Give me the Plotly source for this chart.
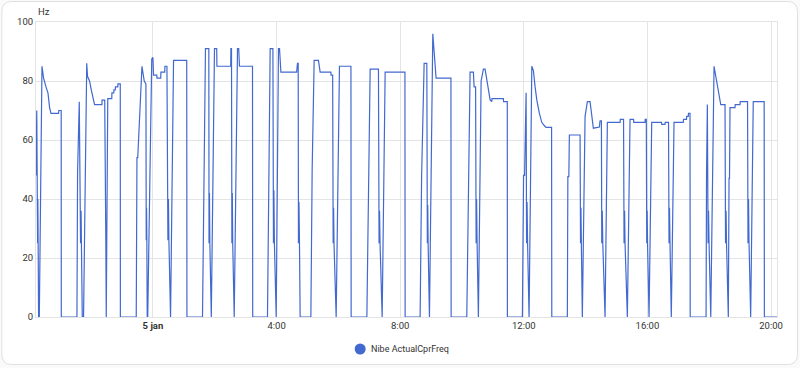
import pandas as pd
import plotly.graph_objects as go

# Minutes relative to 5 Jan 00:00, and compressor frequency (Hz)
minutes = [
    -227.0, -225.5, -223.9, -223.4, -222.8, -222.0, -220.6, -215.4, -212.3, -207.6, -203.8, -200.6, -197.9, -183.2, -182.8, -178.1, -177.9,
    -147.5, -146.3, -143.0, -140.5, -139.5, -138.6, -137.2, -134.7, -128.5, -126.9, -123.0, -119.7, -116.4, -113.3, -99.0, -98.8, -93.6, -92.6, -92.0, -91.4, -90.6, -87.7, -79.9, -79.6, -76.0, -75.6, -73.1, -72.7, -68.3, -67.9, -63.4, -63.2,
    -32.4, -31.0, -29.5, -21.3, -16.9, -13.6, -13.0, -12.4, -11.8, -11.1, -10.1, -2.3, 0, 1.2, 7.4, 7.8, 15.1, 15.5, 22.9, 23.3, 27.2, 29.1, 30.1, 31.0, 33.2, 34.2, 40.0, 65.6, 66.0,
    96.2, 102.0, 108.5, 108.9, 109.7, 110.5, 113.3, 119.5, 123.8, 124.2, 151.0, 151.4, 152.5, 153.3, 154.1, 154.9, 157.8, 164.2, 166.5, 168.0, 193.3, 193.7,
    222.4, 227.6, 232.9, 234.0, 234.8, 235.8, 239.3, 243.7, 245.7, 248.4, 279.0, 280.6, 282.0, 282.5, 283.5, 284.5, 285.8,
    306.6, 308.2, 309.1, 313.0, 321.3, 324.6, 345.4, 345.8, 348.9, 349.9, 350.7, 351.5, 355.7, 362.1, 384.4, 384.8,
    415.3, 421.7, 437.8, 439.0, 439.9, 440.9, 445.0, 450.8, 489.2, 489.6,
    518.7, 521.6, 526.5, 531.7, 532.7, 533.5, 534.2, 536.8, 543.3, 545.9, 547.8, 549.7, 578.5, 578.9,
    609.3, 614.4, 615.7, 622.1, 623.5, 626.4, 627.4, 628.3, 629.3, 631.8, 637.1, 641.5, 644.8, 648.2, 651.3, 654.6, 657.8, 658.2, 680.3, 680.7, 687.9, 688.1,
    717.2, 719.5, 721.5, 724.4, 725.4, 726.3, 727.3, 730.2, 735.5, 738.6, 741.9, 745.2, 750.2, 754.9, 759.3, 763.2, 773.9, 774.3,
    804.5, 805.5, 807.4, 808.4, 829.2, 830.1, 830.9, 831.7, 833.6, 838.9, 840.8, 843.4, 848.6, 851.9, 855.0, 866.7, 868.0, 870.6, 871.3, 872.3, 873.3, 877.7,
    882.2, 906.9, 907.3, 913.6, 914.6, 915.6, 916.5, 921.0, 926.2, 933.0, 933.4, 955.3, 955.7, 957.8, 958.6, 959.4, 960.2, 963.1,
    968.3, 987.3, 987.7, 994.1, 994.5, 1000.9, 1001.9, 1002.8, 1003.8, 1006.3, 1011.6, 1029.6, 1030.0, 1035.8, 1036.2, 1039.3, 1039.7, 1042.6, 1043.0,
    1073.8, 1074.7, 1076.3, 1077.7, 1078.6, 1079.6, 1082.9, 1089.3, 1093.2, 1095.7, 1099.6, 1102.3, 1110.6, 1111.6, 1112.6, 1113.5, 1117.0,
    1118.4, 1119.3, 1120.3, 1130.0, 1130.4, 1139.7, 1140.1, 1154.3, 1155.2, 1156.2, 1157.2, 1160.4, 1165.4, 1186.6, 1187.0, 1211.5,
]
freq_hz = [
    48, 70, 25, 40, 25, 0, 0, 85, 81, 78, 76, 71, 69, 69, 70, 70, 0,
    0, 49, 73, 25, 36, 25, 0, 0, 86, 81.5, 80, 77, 74, 72, 72, 73.5, 73.5, 25, 42, 25, 0, 74, 74, 76, 76, 77, 77, 78, 78, 79, 79, 0,
    0, 54, 54, 85, 80, 79, 26, 37, 26, 0, 0, 87.5, 88, 82, 82, 81, 81, 83, 83, 85, 85, 26, 40, 26, 0, 0, 87, 87, 0,
    0, 91, 91, 25, 42, 25, 0, 91, 91, 85, 85, 91, 91, 25, 42, 25, 0, 91, 91, 85, 85, 0,
    0, 91, 91, 25, 43, 25, 0, 91, 91, 83, 83, 86, 86, 25, 39, 25, 0,
    0, 45, 50, 87, 87, 83, 83, 82, 82, 25, 37, 25, 0, 85, 85, 0,
    0, 84, 84, 25, 36, 25, 0, 83, 83, 0,
    0, 48, 86, 86, 25, 38, 25, 0, 96, 90, 86, 81, 81, 0,
    0, 80, 83, 83, 78, 78, 25, 40, 25, 0, 80, 84, 84, 80, 77, 73.6, 73, 74, 74, 73, 73, 0,
    0, 48, 48, 76, 25, 39, 25, 0, 85, 83.5, 78, 73.6, 69, 66, 65, 64.3, 64.3, 0,
    0, 47.6, 47.6, 61.7, 61.7, 25, 37, 25, 0, 68, 71, 73, 73, 68, 64, 64.4, 66.5, 66.5, 25, 36, 25, 0,
    66, 66, 67, 67, 25, 36, 25, 0, 67, 67, 66, 66, 67, 67, 25, 36, 25, 0,
    66, 66, 65.3, 65.3, 66, 66, 25, 37, 25, 0, 66, 66, 67, 67, 68, 68, 69, 69, 0,
    0, 48, 72, 25, 36, 25, 0, 85, 81, 78, 74.7, 72, 72, 25, 36, 25, 0,
    47, 47, 71, 71, 72, 72, 73, 73, 25, 40, 25, 0, 73, 73, 0, 0,
]

tick_hours = [0, 4, 8, 12, 16, 20]
tick_labels = ["<b>5 jan</b>", "4:00", "8:00", "12:00", "16:00", "20:00"]
y_ticks = [0, 20, 40, 60, 80, 100]
series_name = "Nibe ActualCprFreq"
unit_label = "Hz"

base = pd.Timestamp("2025-01-05 00:00")
times = [base + pd.Timedelta(minutes=m) for m in minutes]
tickvals = [base + pd.Timedelta(hours=h) for h in tick_hours]
x_start = base + pd.Timedelta(minutes=-227.0)
x_end = base + pd.Timedelta(minutes=1211.5)

LINE = "#4269d0"
GRID = "#e4e4e4"
TXT = "#333333"
FS = 9.5

fig = go.Figure()
fig.add_trace(go.Scatter(
    x=times, y=freq_hz, mode="lines", name=series_name,
    line=dict(color=LINE, width=1.2),
    showlegend=False, hoverinfo="x+y",
))

W, H = 800, 368
L, R, T, B = 35.7, 23, 22, 51
pw, ph = W - L - R, H - T - B
def px(x): return (x - L) / pw
def py(y): return (H - B - y) / ph

# Card outline (rounded rectangle)
x0, x1, y0, y1 = px(1.5), px(797.5), py(1.5), py(364.5)
rx, ry = 10 / pw, 10 / ph
path = (f"M {x0+rx},{y0} L {x1-rx},{y0} Q {x1},{y0} {x1},{y0-ry} "
        f"L {x1},{y1+ry} Q {x1},{y1} {x1-rx},{y1} L {x0+rx},{y1} "
        f"Q {x0},{y1} {x0},{y1+ry} L {x0},{y0-ry} Q {x0},{y0} {x0+rx},{y0} Z")

# Legend (dot + label) below the plot
lx, ly, lr = 360, 349, 5.5

fig.update_layout(
    width=W, height=H,
    margin=dict(l=L, r=R, t=T, b=B, autoexpand=False),
    paper_bgcolor="#fafafa",
    plot_bgcolor="white",
    font=dict(family="Roboto, sans-serif", size=FS, color=TXT),
    shapes=[
        dict(type="path", path=path, xref="paper", yref="paper",
             line=dict(color="#e0e0e0", width=1), fillcolor="white", layer="below"),
        dict(type="circle", xref="paper", yref="paper",
             x0=px(lx - lr), x1=px(lx + lr), y0=py(ly + lr), y1=py(ly - lr),
             fillcolor=LINE, line=dict(color=LINE, width=0)),
    ],
    xaxis=dict(
        type="date", range=[x_start, x_end],
        tickvals=tickvals, ticktext=tick_labels,
        showgrid=True, gridcolor=GRID, gridwidth=1,
        showline=True, linecolor=GRID, mirror=True,
        ticks="", tickfont=dict(size=FS, color=TXT), zeroline=False,
    ),
    yaxis=dict(
        range=[0, 100], tickvals=y_ticks,
        showgrid=True, gridcolor=GRID, gridwidth=1,
        showline=True, linecolor=GRID, mirror=True,
        ticks="", tickfont=dict(size=FS, color=TXT), zeroline=False,
    ),
    annotations=[
        dict(text=unit_label, xref="paper", yref="paper", x=0, y=1,
             xanchor="left", yanchor="bottom", yshift=3, showarrow=False,
             font=dict(size=FS, color=TXT)),
        dict(text=series_name, xref="paper", yref="paper", x=px(369), y=py(ly),
             xanchor="left", yanchor="middle", showarrow=False,
             font=dict(size=9, color=TXT)),
    ],
    hovermode="x",
)

fig.write_html("out.html", config={"displayModeBar": False},
               post_script="document.body.style.margin='0';")
